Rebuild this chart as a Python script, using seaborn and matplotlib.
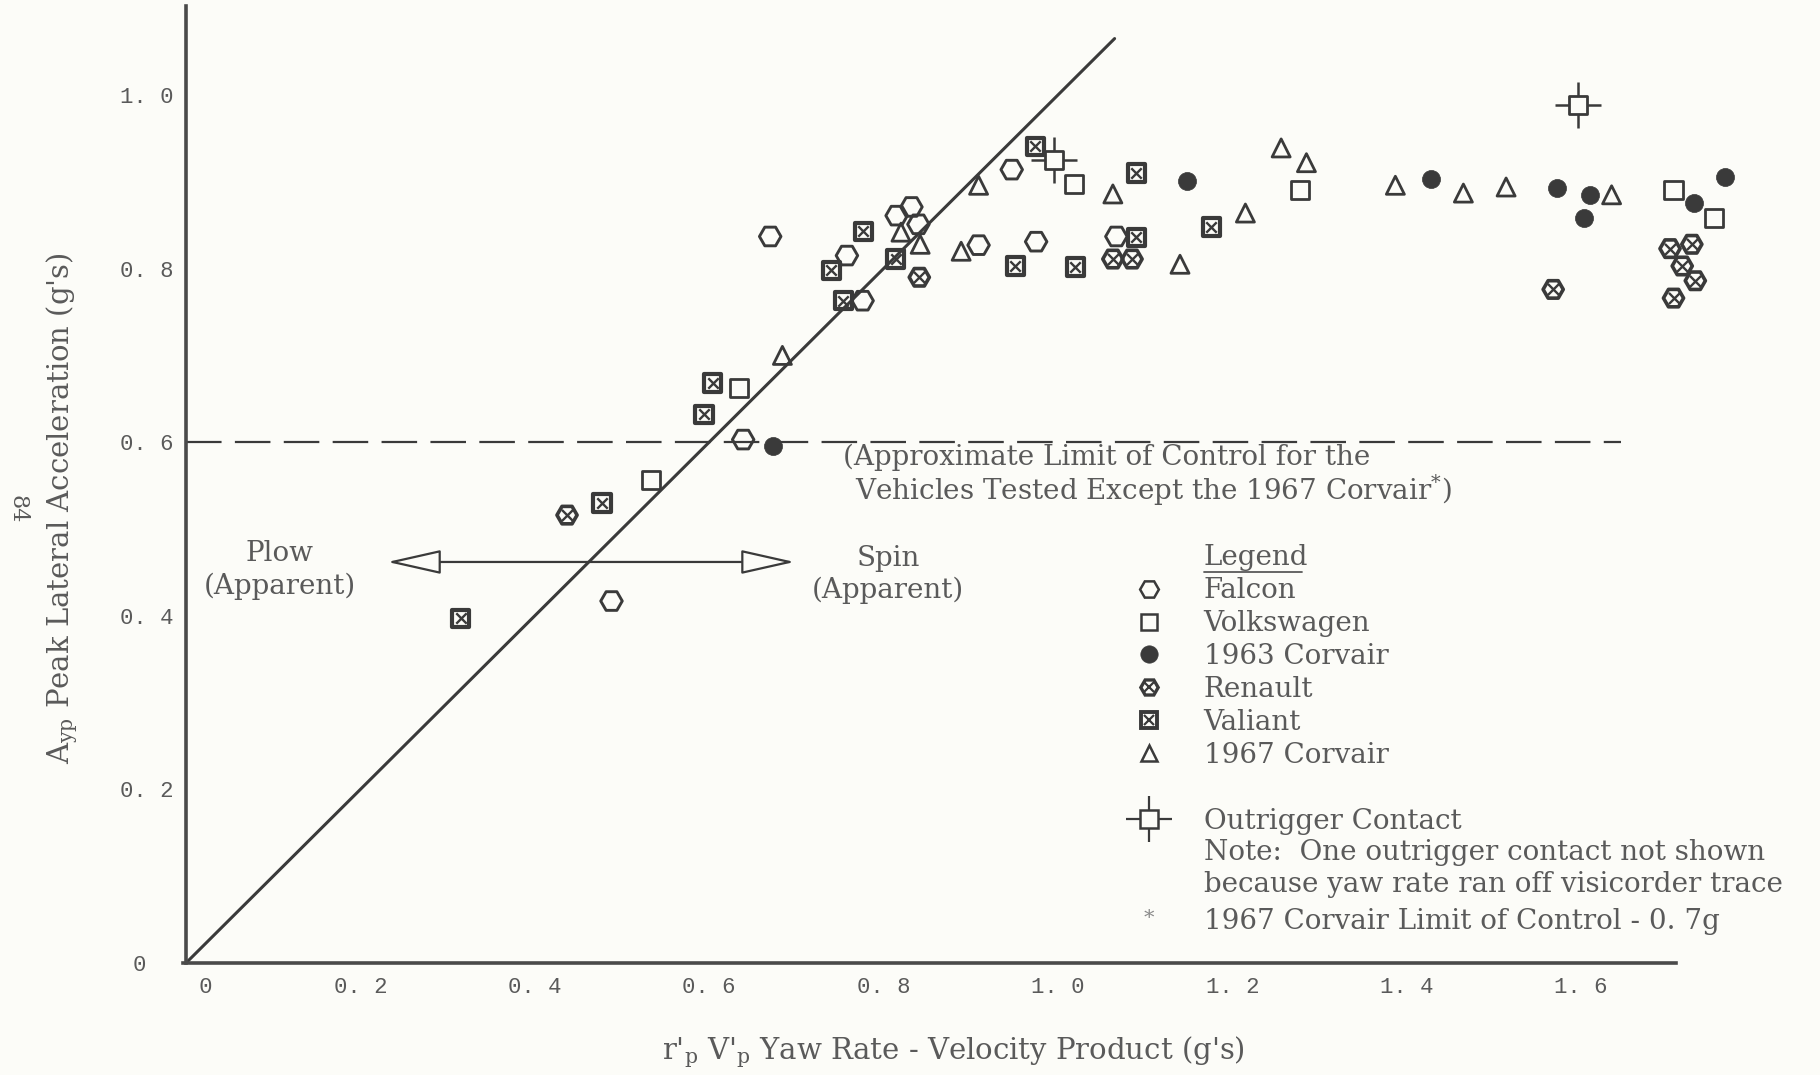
import matplotlib
matplotlib.use("Agg")
import matplotlib.pyplot as plt
from matplotlib.lines import Line2D
import seaborn as sns

# ---------------- data ----------------
falcon_x = [0.488, 0.639, 0.670, 0.758, 0.776, 0.815, 0.832, 0.840, 0.909, 0.947, 0.975, 1.067]
falcon_y = [0.417, 0.603, 0.837, 0.815, 0.763, 0.861, 0.871, 0.851, 0.827, 0.914, 0.831, 0.837]

vw_x = [0.533, 0.634, 1.018, 1.278, 1.706, 1.752]
vw_y = [0.556, 0.662, 0.897, 0.891, 0.891, 0.858]

corvair63_x = [0.673, 1.148, 1.428, 1.572, 1.603, 1.610, 1.729, 1.765]
corvair63_y = [0.596, 0.901, 0.903, 0.893, 0.858, 0.885, 0.876, 0.906]

renault_x = [0.437, 0.841, 1.063, 1.085, 1.568, 1.702, 1.727, 1.716, 1.731, 1.706]
renault_y = [0.516, 0.790, 0.811, 0.811, 0.776, 0.823, 0.828, 0.803, 0.786, 0.766]

valiant_x = [0.315, 0.477, 0.594, 0.604, 0.740, 0.754, 0.777, 0.814, 0.951, 0.974,
             1.020, 1.090, 1.090, 1.176]
valiant_y = [0.397, 0.530, 0.632, 0.668, 0.798, 0.763, 0.843, 0.811, 0.803, 0.941,
             0.802, 0.910, 0.836, 0.848]

corvair67_x = [0.684, 0.820, 0.842, 0.889, 0.909, 1.063, 1.140, 1.215, 1.256, 1.285,
               1.387, 1.465, 1.514, 1.635]
corvair67_y = [0.700, 0.842, 0.828, 0.820, 0.896, 0.886, 0.805, 0.864, 0.939, 0.922,
               0.896, 0.887, 0.894, 0.885]

outrigger_x = [0.995, 1.597]
outrigger_y = [0.925, 0.988]

# reference lines
neutral_x = [0.0, 1.065]          # A = r'V line
neutral_y = [0.0, 1.065]
limit_x = [0.0, 1.646]            # approximate limit of control
limit_y = [0.6, 0.6]
arrow_x = [0.231, 0.698]          # plow / spin arrow
arrow_y = 0.462

x_ticks = [0, 0.2, 0.4, 0.6, 0.8, 1.0, 1.2, 1.4, 1.6]
x_tick_labels = ["   0", "0. 2", "0. 4", "0. 6", "0. 8", "1. 0", "1. 2", "1. 4", "1. 6"]
y_ticks = [0, 0.2, 0.4, 0.6, 0.8, 1.0]
y_tick_labels = ["0  ", "0. 2", "0. 4", "0. 6", "0. 8", "1. 0"]

# ---------------- style ----------------
sns.set_style("white")
BG = "#fcfcf8"
MK = "#3a3a3a"
TXT = "#5a5a5a"
AX = "#4a4a4a"
plt.rcParams["font.family"] = ["DejaVu Serif"]
plt.rcParams["mathtext.fontset"] = "dejavuserif"
FS = 20
FS_AX = 21

fig = plt.figure(figsize=(18.2, 10.75), dpi=100, facecolor=BG)
ax = fig.add_axes([0.1022, 0.1042, 0.9885 - 0.1022, 0.9944 - 0.1042])
ax.set_facecolor(BG)
ax.set_xlim(0, 1.85)
ax.set_ylim(0, 1.1025)

# lines
sns.lineplot(x=neutral_x, y=neutral_y, ax=ax, color=MK, lw=2.2, zorder=2)
ax.plot(limit_x, limit_y, color=MK, lw=1.6, dashes=(16, 6), zorder=2)

# arrow
ax.annotate("", xy=(arrow_x[1], arrow_y), xytext=(arrow_x[0], arrow_y),
            arrowprops=dict(arrowstyle="<|-|>,head_length=2.0,head_width=0.45",
                            mutation_scale=17, fc=BG, ec=MK, lw=1.6,
                            shrinkA=0, shrinkB=0), zorder=3)

# scatter series
sns.scatterplot(x=falcon_x, y=falcon_y, ax=ax, marker="H", s=15.5**2,
                facecolor="none", edgecolor=MK, linewidth=2.1, zorder=4)
sns.scatterplot(x=vw_x, y=vw_y, ax=ax, marker="s", s=13**2,
                facecolor="none", edgecolor=MK, linewidth=2.0, zorder=4)
sns.scatterplot(x=corvair63_x, y=corvair63_y, ax=ax, marker="o", s=13**2,
                facecolor=MK, edgecolor=MK, linewidth=0.5, zorder=4)
sns.scatterplot(x=renault_x, y=renault_y, ax=ax, marker="H", s=14.5**2,
                facecolor="none", edgecolor=MK, linewidth=2.6, zorder=4)
sns.scatterplot(x=renault_x, y=renault_y, ax=ax, marker="x", s=8**2,
                color=MK, linewidth=1.7, zorder=4)
sns.scatterplot(x=valiant_x, y=valiant_y, ax=ax, marker="s", s=12.5**2,
                facecolor="none", edgecolor=MK, linewidth=3.0, zorder=4)
sns.scatterplot(x=valiant_x, y=valiant_y, ax=ax, marker="x", s=7.5**2,
                color=MK, linewidth=1.7, zorder=4)
sns.scatterplot(x=corvair67_x, y=corvair67_y, ax=ax, marker="^", s=13**2,
                facecolor="none", edgecolor=MK, linewidth=2.0, zorder=4)
sns.scatterplot(x=outrigger_x, y=outrigger_y, ax=ax, marker="+", s=33**2,
                color=MK, linewidth=1.8, zorder=5)
sns.scatterplot(x=outrigger_x, y=outrigger_y, ax=ax, marker="s", s=13**2,
                facecolor=BG, edgecolor=MK, linewidth=2.0, zorder=6)

# axes styling
for side in ("top", "right"):
    ax.spines[side].set_visible(False)
for side in ("left", "bottom"):
    ax.spines[side].set_color(AX)
    ax.spines[side].set_linewidth(2.6)
ax.spines["bottom"].set_bounds(-0.004, 1.709)
ax.set_xticks(x_ticks)
ax.set_xticklabels(x_tick_labels)
ax.set_yticks(y_ticks)
ax.set_yticklabels(y_tick_labels)
ax.tick_params(axis="both", direction="in", length=13, width=1.4, color=AX,
               labelcolor=TXT, labelsize=16)
ax.tick_params(axis="x", pad=10)
ax.tick_params(axis="y", pad=9)
for lab in ax.get_xticklabels() + ax.get_yticklabels():
    lab.set_fontfamily(["Liberation Mono", "DejaVu Sans Mono"])
ax.set_xlabel("")
ax.set_ylabel("")

# annotations in the plot
ax.text(0.1075, 0.453, "Plow\n(Apparent)", ha="center", va="center",
        fontsize=FS, color=TXT, linespacing=1.25)
ax.text(0.805, 0.4476, "Spin\n(Apparent)", ha="center", va="center",
        fontsize=FS, color=TXT, linespacing=1.25)
ax.text(0.754, 0.582, "(Approximate Limit of Control for the", ha="left",
        va="center", fontsize=FS, color=TXT)
ax.text(0.767, 0.5445, r"Vehicles Tested Except the 1967 Corvair$^{*}$)", ha="left",
        va="center", fontsize=FS, color=TXT)

# legend
def key(marker, ms, fc, mew, color=MK):
    return Line2D([], [], ls="none", marker=marker, ms=ms, mfc=fc, mec=color,
                  mew=mew, color=color)

handles = [
    key("H", 13.5, "none", 1.8),
    key("s", 12, "none", 1.8),
    key("o", 12.5, MK, 0.5),
    (key("H", 12.5, "none", 2.4), key("x", 7, "none", 1.6)),
    (key("s", 11.5, "none", 2.8), key("x", 7, "none", 1.6)),
    key("^", 11.5, "none", 1.8),
]
labels = ["Falcon", "Volkswagen", "1963 Corvair", "Renault", "Valiant", "1967 Corvair"]
leg1 = ax.legend(handles, labels, loc="upper left", bbox_to_anchor=(0.6237, 0.4628),
                 bbox_transform=fig.transFigure, frameon=False, fontsize=FS,
                 labelspacing=0.21, handlelength=1.0, handletextpad=1.464,
                 borderpad=0, borderaxespad=0, labelcolor=TXT)
ax.add_artist(leg1)
out_handle = (key("+", 33, "none", 1.6), key("s", 13, BG, 1.8))
leg2 = ax.legend([out_handle], ["Outrigger Contact"], loc="upper left",
                 bbox_to_anchor=(0.6237, 0.2484), bbox_transform=fig.transFigure,
                 frameon=False, fontsize=FS, handlelength=1.0, handletextpad=1.464,
                 borderpad=0, borderaxespad=0, labelcolor=TXT)

fig.text(0.6613, 0.4810, "Legend", ha="left", va="center", fontsize=FS, color=TXT)
fig.add_artist(Line2D([0.6615, 0.7154], [0.4675, 0.4675], transform=fig.transFigure,
                      color=TXT, lw=1.3))
fig.text(0.6613, 0.2074, "Note:  One outrigger contact not shown", ha="left",
         va="center", fontsize=FS, color=TXT)
fig.text(0.6613, 0.1772, "because yaw rate ran off visicorder trace", ha="left",
         va="center", fontsize=FS, color=TXT)
fig.text(0.6313, 0.1455, "*", ha="center", va="center", fontsize=15, color="#8a8a8a")
fig.text(0.6613, 0.1427, "1967 Corvair Limit of Control - 0. 7g", ha="left",
         va="center", fontsize=FS, color=TXT)

# axis titles and page number
fig.text(0.524, 0.0215, r"r'$_{\mathrm{p}}$ V'$_{\mathrm{p}}$ Yaw Rate - Velocity Product (g's)",
         ha="center", va="center", fontsize=FS_AX, color=TXT)
fig.text(0.034, 0.527, r"A$_{\mathrm{yp}}$ Peak Lateral Acceleration (g's)",
         ha="center", va="center", rotation=90, fontsize=FS_AX, color=TXT)
fig.text(0.0095, 0.526, "84", ha="center", va="center", rotation=270,
         fontsize=16, color=TXT)

fig.savefig("out.png", dpi=100, facecolor=BG)
